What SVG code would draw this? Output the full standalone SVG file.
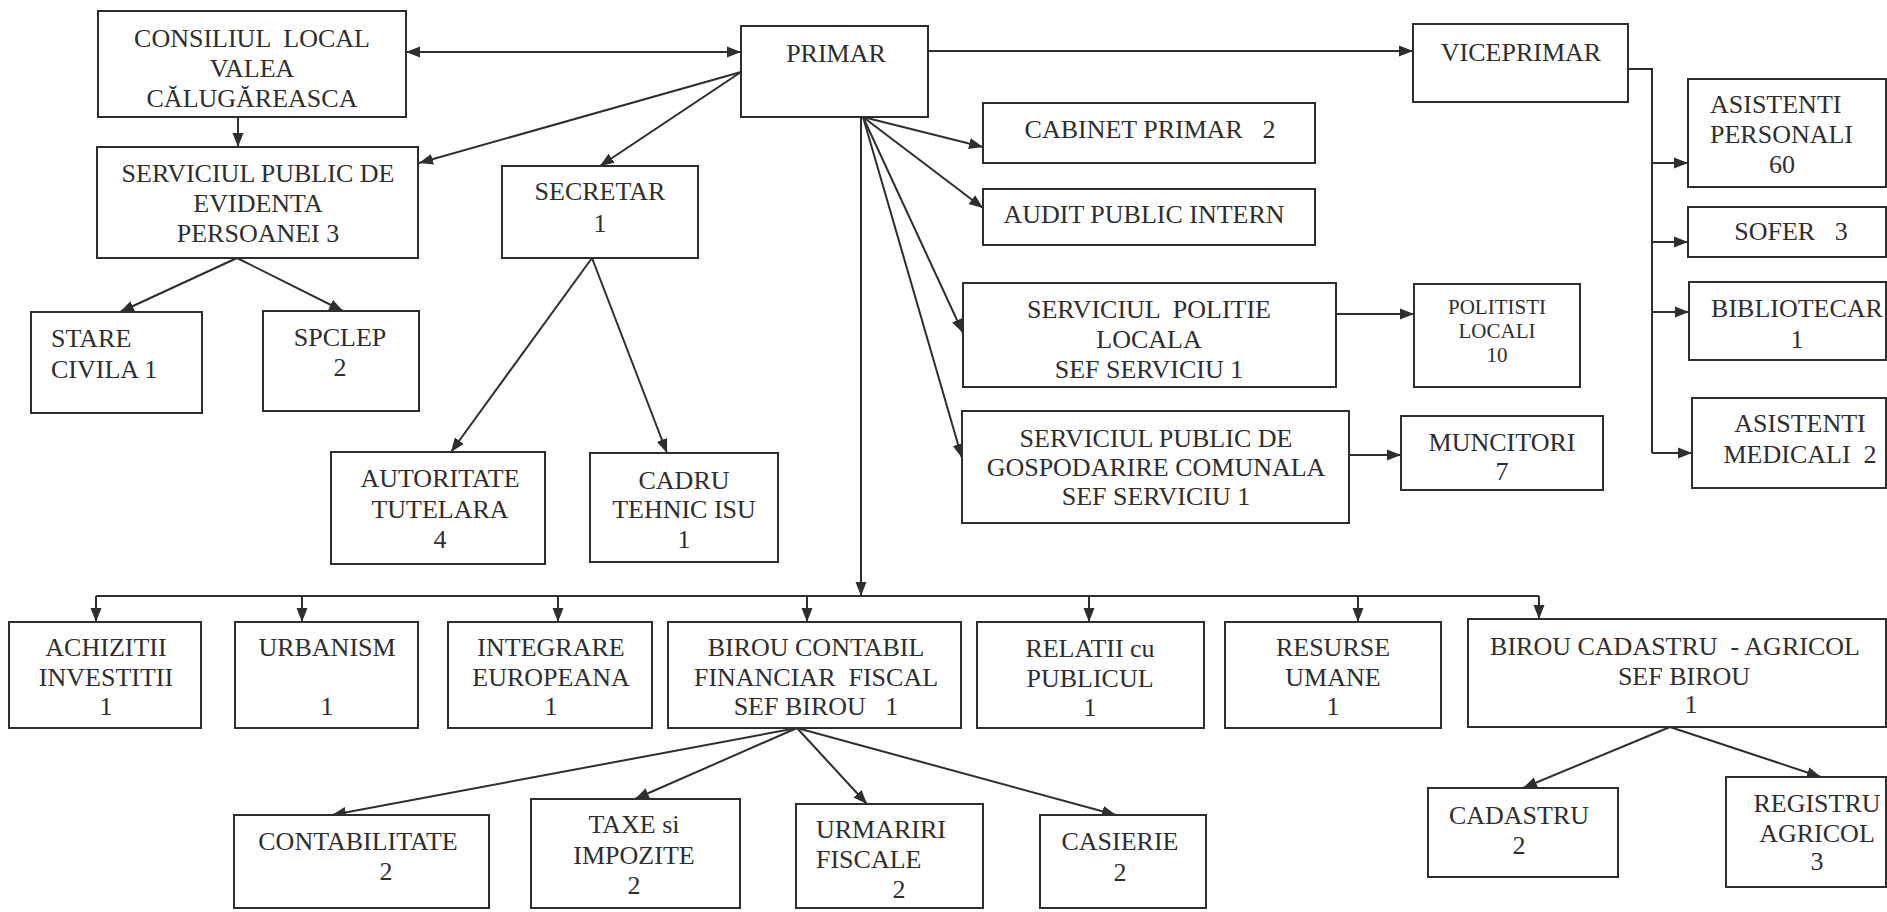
<svg xmlns="http://www.w3.org/2000/svg" width="1887" height="912" viewBox="0 0 1887 912">
<style>
rect.n { fill: #ffffff; stroke: #2e2e2e; stroke-width: 2; }
text { font-family: "Liberation Serif", "Times New Roman", serif; font-size: 26px; fill: #2e2e2e; white-space: pre; }
text.c { text-anchor: middle; }
text.s { font-size: 21px; }
.e line, .e path { stroke: #2e2e2e; stroke-width: 2; fill: none; }
.a { marker-end: url(#ah); }
</style>
<defs>
<marker id="ah" markerUnits="userSpaceOnUse" markerWidth="15" markerHeight="12" refX="14" refY="6" orient="auto-start-reverse">
<path d="M0,0.5 L14,6 L0,11.5 z" fill="#2e2e2e"/>
</marker>
</defs>
<rect width="1887" height="912" fill="#ffffff"/>

<g id="connectors" class="e">
<line class="a" x1="406" y1="52" x2="741" y2="52" marker-start="url(#ah)"/>
<line class="a" x1="238" y1="117" x2="238" y2="147"/>
<line class="a" x1="741" y1="72" x2="419" y2="163"/>
<line class="a" x1="741" y1="72" x2="600" y2="166"/>
<line class="a" x1="928" y1="51" x2="1413" y2="51"/>
<line class="a" x1="863" y1="117" x2="983" y2="147"/>
<line class="a" x1="863" y1="117" x2="983" y2="208"/>
<line class="a" x1="863" y1="117" x2="963" y2="333"/>
<line class="a" x1="863" y1="117" x2="962" y2="458"/>
<line class="a" x1="861" y1="117" x2="861" y2="596"/>
<line x1="96" y1="596" x2="1539" y2="596"/>
<line class="a" x1="96" y1="596" x2="96" y2="622"/>
<line class="a" x1="302" y1="596" x2="302" y2="622"/>
<line class="a" x1="558" y1="596" x2="558" y2="622"/>
<line class="a" x1="807" y1="596" x2="807" y2="622"/>
<line class="a" x1="1089" y1="596" x2="1089" y2="622"/>
<line class="a" x1="1358" y1="596" x2="1358" y2="622"/>
<line class="a" x1="1539" y1="596" x2="1539" y2="619"/>
<line class="a" x1="237" y1="258" x2="120" y2="312"/>
<line class="a" x1="237" y1="258" x2="343" y2="311"/>
<line class="a" x1="592" y1="258" x2="451" y2="452"/>
<line class="a" x1="592" y1="258" x2="667" y2="453"/>
<line class="a" x1="1336" y1="314" x2="1414" y2="314"/>
<line class="a" x1="1349" y1="455" x2="1401" y2="455"/>
<path d="M1628,69 H1652 V453"/>
<line class="a" x1="1652" y1="163" x2="1688" y2="163"/>
<line class="a" x1="1652" y1="242" x2="1688" y2="242"/>
<line class="a" x1="1652" y1="312" x2="1689" y2="312"/>
<line class="a" x1="1652" y1="453" x2="1692" y2="453"/>
<line class="a" x1="797" y1="728" x2="332" y2="815"/>
<line class="a" x1="797" y1="728" x2="635" y2="799"/>
<line class="a" x1="797" y1="728" x2="867" y2="804"/>
<line class="a" x1="797" y1="728" x2="1116" y2="815"/>
<line class="a" x1="1670" y1="727" x2="1523" y2="788"/>
<line class="a" x1="1670" y1="727" x2="1821" y2="777"/>
</g>

<g id="consiliul"><rect class="n" x="98" y="11" width="308" height="106"/>
<text class="c" x="252" y="47">CONSILIUL  LOCAL</text><text class="c" x="252" y="77">VALEA</text><text class="c" x="252" y="107">CĂLUGĂREASCA</text></g>

<g id="primar"><rect class="n" x="741" y="26" width="187" height="91"/>
<text class="c" x="836" y="62">PRIMAR</text></g>

<g id="viceprimar"><rect class="n" x="1413" y="24" width="215" height="78"/>
<text class="c" x="1521" y="61">VICEPRIMAR</text></g>

<g id="serv_evidenta"><rect class="n" x="97" y="147" width="321" height="111"/>
<text class="c" x="258" y="182">SERVICIUL PUBLIC DE</text><text class="c" x="258" y="212">EVIDENTA</text><text class="c" x="258" y="242">PERSOANEI 3</text></g>

<g id="secretar"><rect class="n" x="502" y="166" width="196" height="92"/>
<text class="c" x="600" y="200">SECRETAR</text><text class="c" x="600" y="232">1</text></g>

<g id="cabinet"><rect class="n" x="983" y="103" width="332" height="60"/>
<text class="c" x="1150" y="138">CABINET PRIMAR   2</text></g>

<g id="audit"><rect class="n" x="983" y="189" width="332" height="56"/>
<text class="c" x="1144" y="223">AUDIT PUBLIC INTERN</text></g>

<g id="stare"><rect class="n" x="31" y="312" width="171" height="101"/>
<text x="51" y="347">STARE</text><text x="51" y="378">CIVILA 1</text></g>

<g id="spclep"><rect class="n" x="263" y="311" width="156" height="100"/>
<text class="c" x="340" y="346">SPCLEP</text><text class="c" x="340" y="376">2</text></g>

<g id="autoritate"><rect class="n" x="331" y="452" width="214" height="112"/>
<text class="c" x="440" y="487">AUTORITATE</text><text class="c" x="440" y="518">TUTELARA</text><text class="c" x="440" y="548">4</text></g>

<g id="cadru"><rect class="n" x="590" y="453" width="188" height="109"/>
<text class="c" x="684" y="489">CADRU</text><text class="c" x="684" y="518">TEHNIC ISU</text><text class="c" x="684" y="548">1</text></g>

<g id="serv_politie"><rect class="n" x="963" y="283" width="373" height="104"/>
<text class="c" x="1149" y="318">SERVICIUL  POLITIE</text><text class="c" x="1149" y="348">LOCALA</text><text class="c" x="1149" y="378">SEF SERVICIU 1</text></g>

<g id="politisti"><rect class="n" x="1414" y="284" width="166" height="103"/>
<text class="c s" x="1497" y="314">POLITISTI</text><text class="c s" x="1497" y="338">LOCALI</text><text class="c s" x="1497" y="362">10</text></g>

<g id="serv_gosp"><rect class="n" x="962" y="411" width="387" height="112"/>
<text class="c" x="1156" y="447">SERVICIUL PUBLIC DE</text><text class="c" x="1156" y="476">GOSPODARIRE COMUNALA</text><text class="c" x="1156" y="505">SEF SERVICIU 1</text></g>

<g id="muncitori"><rect class="n" x="1401" y="416" width="202" height="74"/>
<text class="c" x="1502" y="451">MUNCITORI</text><text class="c" x="1502" y="480">7</text></g>

<g id="asistenti_personali"><rect class="n" x="1688" y="79" width="198" height="108"/>
<text x="1710" y="113">ASISTENTI</text><text x="1710" y="143">PERSONALI</text><text class="c" x="1782" y="173">60</text></g>

<g id="sofer"><rect class="n" x="1688" y="207" width="198" height="50"/>
<text class="c" x="1791" y="240">SOFER   3</text></g>

<g id="bibliotecar"><rect class="n" x="1689" y="282" width="197" height="78"/>
<text class="c" x="1797" y="317">BIBLIOTECAR</text><text class="c" x="1797" y="348">1</text></g>

<g id="asistenti_medicali"><rect class="n" x="1692" y="398" width="194" height="90"/>
<text class="c" x="1800" y="432">ASISTENTI</text><text class="c" x="1800" y="463">MEDICALI  2</text></g>

<g id="achizitii"><rect class="n" x="9" y="622" width="192" height="106"/>
<text class="c" x="106" y="656">ACHIZITII</text><text class="c" x="106" y="686">INVESTITII</text><text class="c" x="106" y="715">1</text></g>

<g id="urbanism"><rect class="n" x="235" y="622" width="183" height="106"/>
<text class="c" x="327" y="656">URBANISM</text><text class="c" x="327" y="715">1</text></g>

<g id="integrare"><rect class="n" x="448" y="622" width="204" height="106"/>
<text class="c" x="551" y="656">INTEGRARE</text><text class="c" x="551" y="686">EUROPEANA</text><text class="c" x="551" y="715">1</text></g>

<g id="birou_contabil"><rect class="n" x="668" y="622" width="293" height="106"/>
<text class="c" x="816" y="656">BIROU CONTABIL</text><text class="c" x="816" y="686">FINANCIAR  FISCAL</text><text class="c" x="816" y="715">SEF BIROU   1</text></g>

<g id="relatii"><rect class="n" x="977" y="622" width="227" height="106"/>
<text class="c" x="1090" y="657">RELATII cu</text><text class="c" x="1090" y="687">PUBLICUL</text><text class="c" x="1090" y="716">1</text></g>

<g id="resurse"><rect class="n" x="1225" y="622" width="216" height="106"/>
<text class="c" x="1333" y="656">RESURSE</text><text class="c" x="1333" y="686">UMANE</text><text class="c" x="1333" y="715">1</text></g>

<g id="birou_cadastru"><rect class="n" x="1468" y="619" width="418" height="108"/>
<text class="c" x="1675" y="655">BIROU CADASTRU  - AGRICOL</text><text class="c" x="1684" y="685">SEF BIROU</text><text class="c" x="1691" y="713">1</text></g>

<g id="contabilitate"><rect class="n" x="234" y="815" width="255" height="93"/>
<text class="c" x="358" y="850">CONTABILITATE</text><text class="c" x="386" y="880">2</text></g>

<g id="taxe"><rect class="n" x="531" y="799" width="209" height="109"/>
<text class="c" x="634" y="833">TAXE si</text><text class="c" x="634" y="864">IMPOZITE</text><text class="c" x="634" y="894">2</text></g>

<g id="urmariri"><rect class="n" x="796" y="804" width="187" height="104"/>
<text x="816" y="838">URMARIRI</text><text x="816" y="868">FISCALE</text><text class="c" x="899" y="898">2</text></g>

<g id="casierie"><rect class="n" x="1040" y="815" width="166" height="93"/>
<text class="c" x="1120" y="850">CASIERIE</text><text class="c" x="1120" y="881">2</text></g>

<g id="cadastru"><rect class="n" x="1428" y="788" width="190" height="89"/>
<text class="c" x="1519" y="824">CADASTRU</text><text class="c" x="1519" y="854">2</text></g>

<g id="registru"><rect class="n" x="1726" y="777" width="160" height="110"/>
<text class="c" x="1817" y="812">REGISTRU</text><text class="c" x="1817" y="842">AGRICOL</text><text class="c" x="1817" y="870">3</text></g>
</svg>
